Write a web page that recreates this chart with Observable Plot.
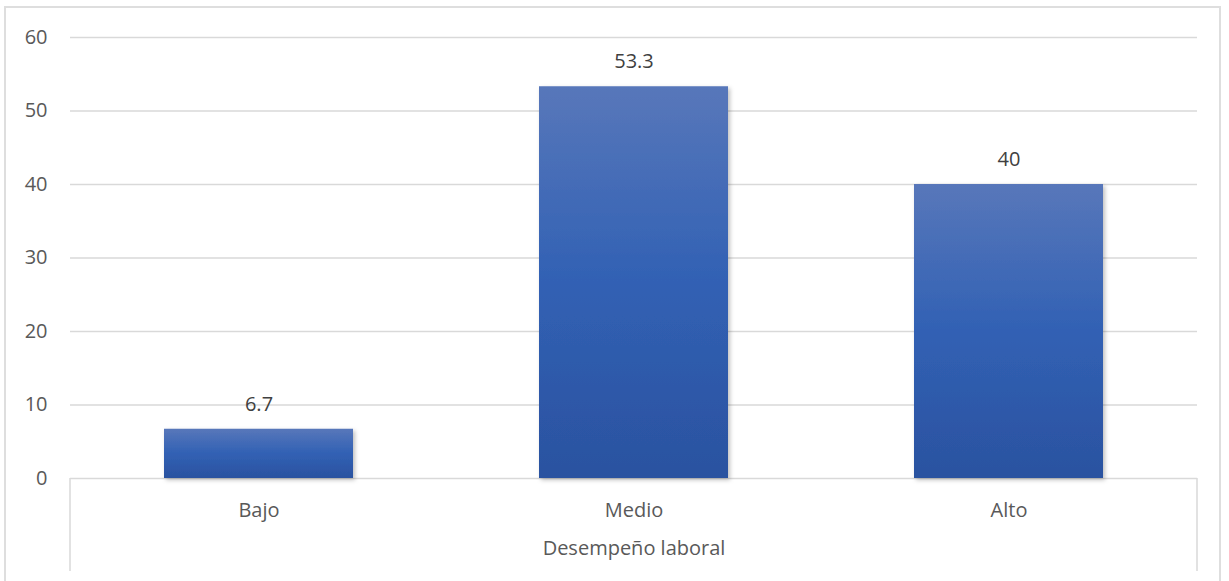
<!DOCTYPE html>
<html>
<head>
<meta charset="utf-8">
<script src="https://cdn.jsdelivr.net/npm/d3@7"></script>
<script src="https://cdn.jsdelivr.net/npm/@observablehq/plot@0.6"></script>
<style>
  html, body { margin: 0; padding: 0; background: #fff; overflow: hidden; }
  #wrap { position: relative; width: 1229px; height: 581px; }
  #border { position: absolute; left: 4px; top: 6px; width: 1217px; height: 600px;
            border: 2px solid #dedede; box-sizing: border-box; }
  #chart { position: absolute; left: 0; top: 0; }
  #chart svg { font-family: "Open Sans", "Noto Sans", sans-serif; }
</style>
</head>
<body>
<div id="wrap">
  <div id="border"></div>
  <div id="chart"></div>
</div>
<script>
// Desempeño laboral: porcentaje por nivel
const categories = ["Bajo", "Medio", "Alto"];
const values = [6.7, 53.3, 40];
const yTicks = [0, 10, 20, 30, 40, 50, 60];
const axisTitle = "Desempeño laboral";

const data = categories.map((c, i) => ({nivel: c, valor: values[i]}));

const plot = Plot.plot({
  width: 1229,
  height: 581,
  marginLeft: 70,
  marginRight: 32,
  marginTop: 37,
  marginBottom: 103,
  style: {fontSize: "20px", fontFamily: "'Open Sans', 'Noto Sans', sans-serif", background: "transparent", overflow: "visible"},
  x: {domain: categories, paddingInner: 0.497, paddingOuter: 0.2485},
  y: {domain: [0, 60]},
  marks: [
    Plot.ruleY(yTicks, {stroke: "#d9d9d9", strokeWidth: 1.5}),
    Plot.axisY({ticks: yTicks, tickSize: 0, tickPadding: 23, label: null, color: "#595959", fontSize: 20}),
    Plot.axisX({tickSize: 0, tickPadding: 24, label: null, color: "#595959", fontSize: 20}),
    Plot.barY(data, {x: "nivel", y: "valor", fill: "url(#barGrad)", className: "bars"}),
    Plot.text(data, {x: "nivel", y: "valor", text: d => String(d.valor), dy: -25, fill: "#404040", fontSize: 20}),
    Plot.text([axisTitle], {frameAnchor: "bottom", dy: 76, fill: "#595959", fontSize: 20})
  ]
});

// Gradient fill and soft shadow for the bars
const svg = d3.select(plot);
const defs = svg.insert("defs", ":first-child");
const grad = defs.append("linearGradient").attr("id", "barGrad")
  .attr("x1", 0).attr("y1", 0).attr("x2", 0).attr("y2", 1);
grad.append("stop").attr("offset", "0%").attr("stop-color", "#5877ba");
grad.append("stop").attr("offset", "50%").attr("stop-color", "#3161b4");
grad.append("stop").attr("offset", "100%").attr("stop-color", "#2b52a0");
const f = defs.append("filter").attr("id", "barShadow")
  .attr("x", "-10%").attr("y", "-10%").attr("width", "130%").attr("height", "130%");
f.append("feDropShadow").attr("dx", 2).attr("dy", 2).attr("stdDeviation", 2)
  .attr("flood-color", "#000").attr("flood-opacity", 0.25);
svg.selectAll("g.bars rect, g[aria-label='bar'] rect").attr("filter", "url(#barShadow)");

// Category box under the axis, from the x scale's extent
const xs = plot.scale("x");
const ys = plot.scale("y");
const y0 = ys.apply(0);
const yBottom = 571;
const [xa, xb] = xs.range;
const box = svg.append("g").attr("stroke", "#d9d9d9").attr("stroke-width", 1.5);
[xa, xb].forEach(x => box.append("line").attr("x1", x).attr("x2", x).attr("y1", y0).attr("y2", yBottom));

document.getElementById("chart").appendChild(plot);
</script>
</body>
</html>
